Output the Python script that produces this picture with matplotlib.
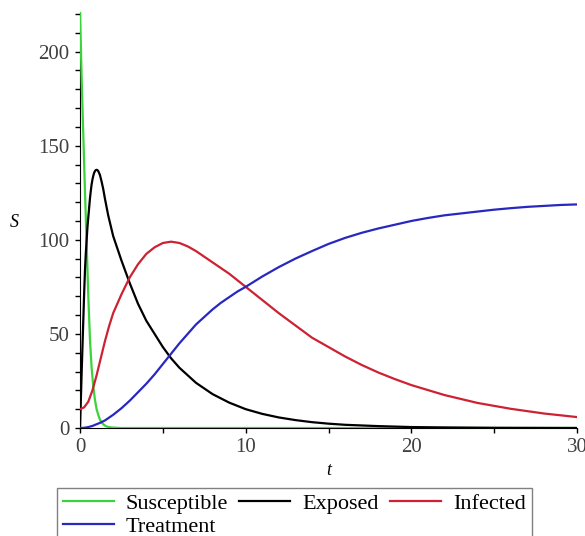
import matplotlib.pyplot as plt
from matplotlib.ticker import MultipleLocator

# Nilai (waktu t dan jumlah populasi)
t_s = [0, 0.1, 0.2, 0.3, 0.4, 0.5, 0.6, 0.7, 0.8, 0.9, 1.0, 1.1, 1.2, 1.3, 1.4, 1.55, 1.7,
       2.0, 2.5, 30]
susceptible = [221, 185, 155, 125, 98, 70, 47, 32, 22, 15, 10, 7, 4.5, 3, 2, 1, 0.5,
               0.2, 0, 0]

t_e = [0, 0.05, 0.1, 0.15, 0.2, 0.25, 0.3, 0.35, 0.4, 0.45, 0.5, 0.55, 0.6, 0.65, 0.7, 0.75,
       0.8, 0.85, 0.9, 0.95, 1.0, 1.05, 1.1, 1.2, 1.3, 1.4, 1.5, 1.7, 2, 2.5, 3, 3.5, 4, 4.5,
       5, 5.5, 6, 6.5, 7, 7.5, 8, 9, 10, 11, 12, 13, 14, 15, 16, 18, 20, 22, 25, 30]
exposed = [0, 15, 30, 44, 58, 72, 84, 93, 100, 107, 112, 117, 122, 126, 129.5, 132, 134,
           135.5, 136.5, 137, 137.2, 137, 136.5, 134.5, 131, 127, 122, 113, 102, 89, 77, 66,
           57, 50, 43, 37, 32, 28, 24, 21, 18, 13.5, 10, 7.5, 5.6, 4.2, 3.1, 2.3, 1.7, 1,
           0.5, 0.3, 0.1, 0]

t_i = [0, 0.25, 0.5, 0.75, 1.0, 1.25, 1.5, 1.75, 2, 2.5, 3, 3.5, 4, 4.5, 5, 5.5, 6, 6.5, 7,
       7.5, 8, 9, 10, 11, 12, 13, 14, 15, 16, 17, 18, 19, 20, 22, 24, 26, 28, 30]
infected = [10, 11, 14, 20, 28, 37, 46, 54, 61, 71, 80, 87, 92.5, 96, 98.3, 99, 98.3, 96.5,
            94, 91, 88, 82, 75, 68, 61, 54.5, 48, 43, 38, 33.5, 29.5, 26, 22.8, 17.5, 13.3,
            10.2, 7.7, 5.8]

t_r = [0, 0.25, 0.5, 0.75, 1, 1.25, 1.5, 2, 2.5, 3, 3.5, 4, 4.5, 5, 5.5, 6, 6.5, 7, 7.5, 8,
       8.5, 9, 9.5, 10, 11, 12, 13, 14, 15, 16, 17, 18, 19, 20, 21, 22, 23, 24, 25, 26, 27,
       28, 29, 30]
treatment = [0, 0.1, 0.5, 1.1, 2, 2.9, 4, 7, 10.5, 14.5, 19, 23.5, 28.5, 34, 39.5, 45, 50,
             55, 59, 63, 66.5, 69.5, 72.5, 75, 80.5, 85.5, 90, 94, 97.8, 101, 103.7, 106,
             108, 110, 111.6, 113, 114, 115, 116, 116.8, 117.5, 118, 118.5, 118.8]

plt.rcParams['font.family'] = ['Liberation Serif', 'DejaVu Serif']

fig = plt.figure(figsize=(5.85, 5.36), dpi=100)
ax = fig.add_axes([0.1368, 0.2015, 0.8496, 0.776])

garis = {}
garis['Susceptible'], = ax.plot(t_s, susceptible, color='#3cd23c', lw=1.6, zorder=3)
garis['Exposed'], = ax.plot(t_e, exposed, color='black', lw=1.6, zorder=3)
garis['Infected'], = ax.plot(t_i, infected, color='#cc2233', lw=1.6, zorder=3)
garis['Treatment'], = ax.plot(t_r, treatment, color='#2828c0', lw=1.6, zorder=3)

ax.set_xlim(0, 30)
ax.set_ylim(0, 221)
ax.spines['top'].set_visible(False)
ax.spines['right'].set_visible(False)

ax.xaxis.set_major_locator(MultipleLocator(10))
ax.xaxis.set_minor_locator(MultipleLocator(5))
ax.yaxis.set_major_locator(MultipleLocator(50))
ax.yaxis.set_minor_locator(MultipleLocator(10))
ax.tick_params(which='both', direction='out', length=3.5, width=1, labelsize=15,
               labelcolor='#404040', pad=4)

ax.set_xlabel('t', fontstyle='italic', fontsize=13, va='center')
ax.xaxis.set_label_coords(0.5, -0.101)
ax.set_ylabel('S', fontstyle='italic', fontsize=13, rotation=0, va='center', ha='center')
ax.yaxis.set_label_coords(-0.133, 0.495)

# urutan disusun agar baris pertama: Susceptible, Exposed, Infected
urutan = ['Susceptible', 'Treatment', 'Exposed', 'Infected']
fig.legend([garis[k] for k in urutan], urutan, loc='upper left',
           bbox_to_anchor=(57 / 585, 1 - 488 / 536), ncol=3,
           fontsize=16, fancybox=False, edgecolor='#808080', framealpha=1,
           handlelength=2.3, columnspacing=0.5, handletextpad=0.55,
           labelspacing=0.1, borderpad=0.25, borderaxespad=0)

fig.savefig('out.png', dpi=100)
